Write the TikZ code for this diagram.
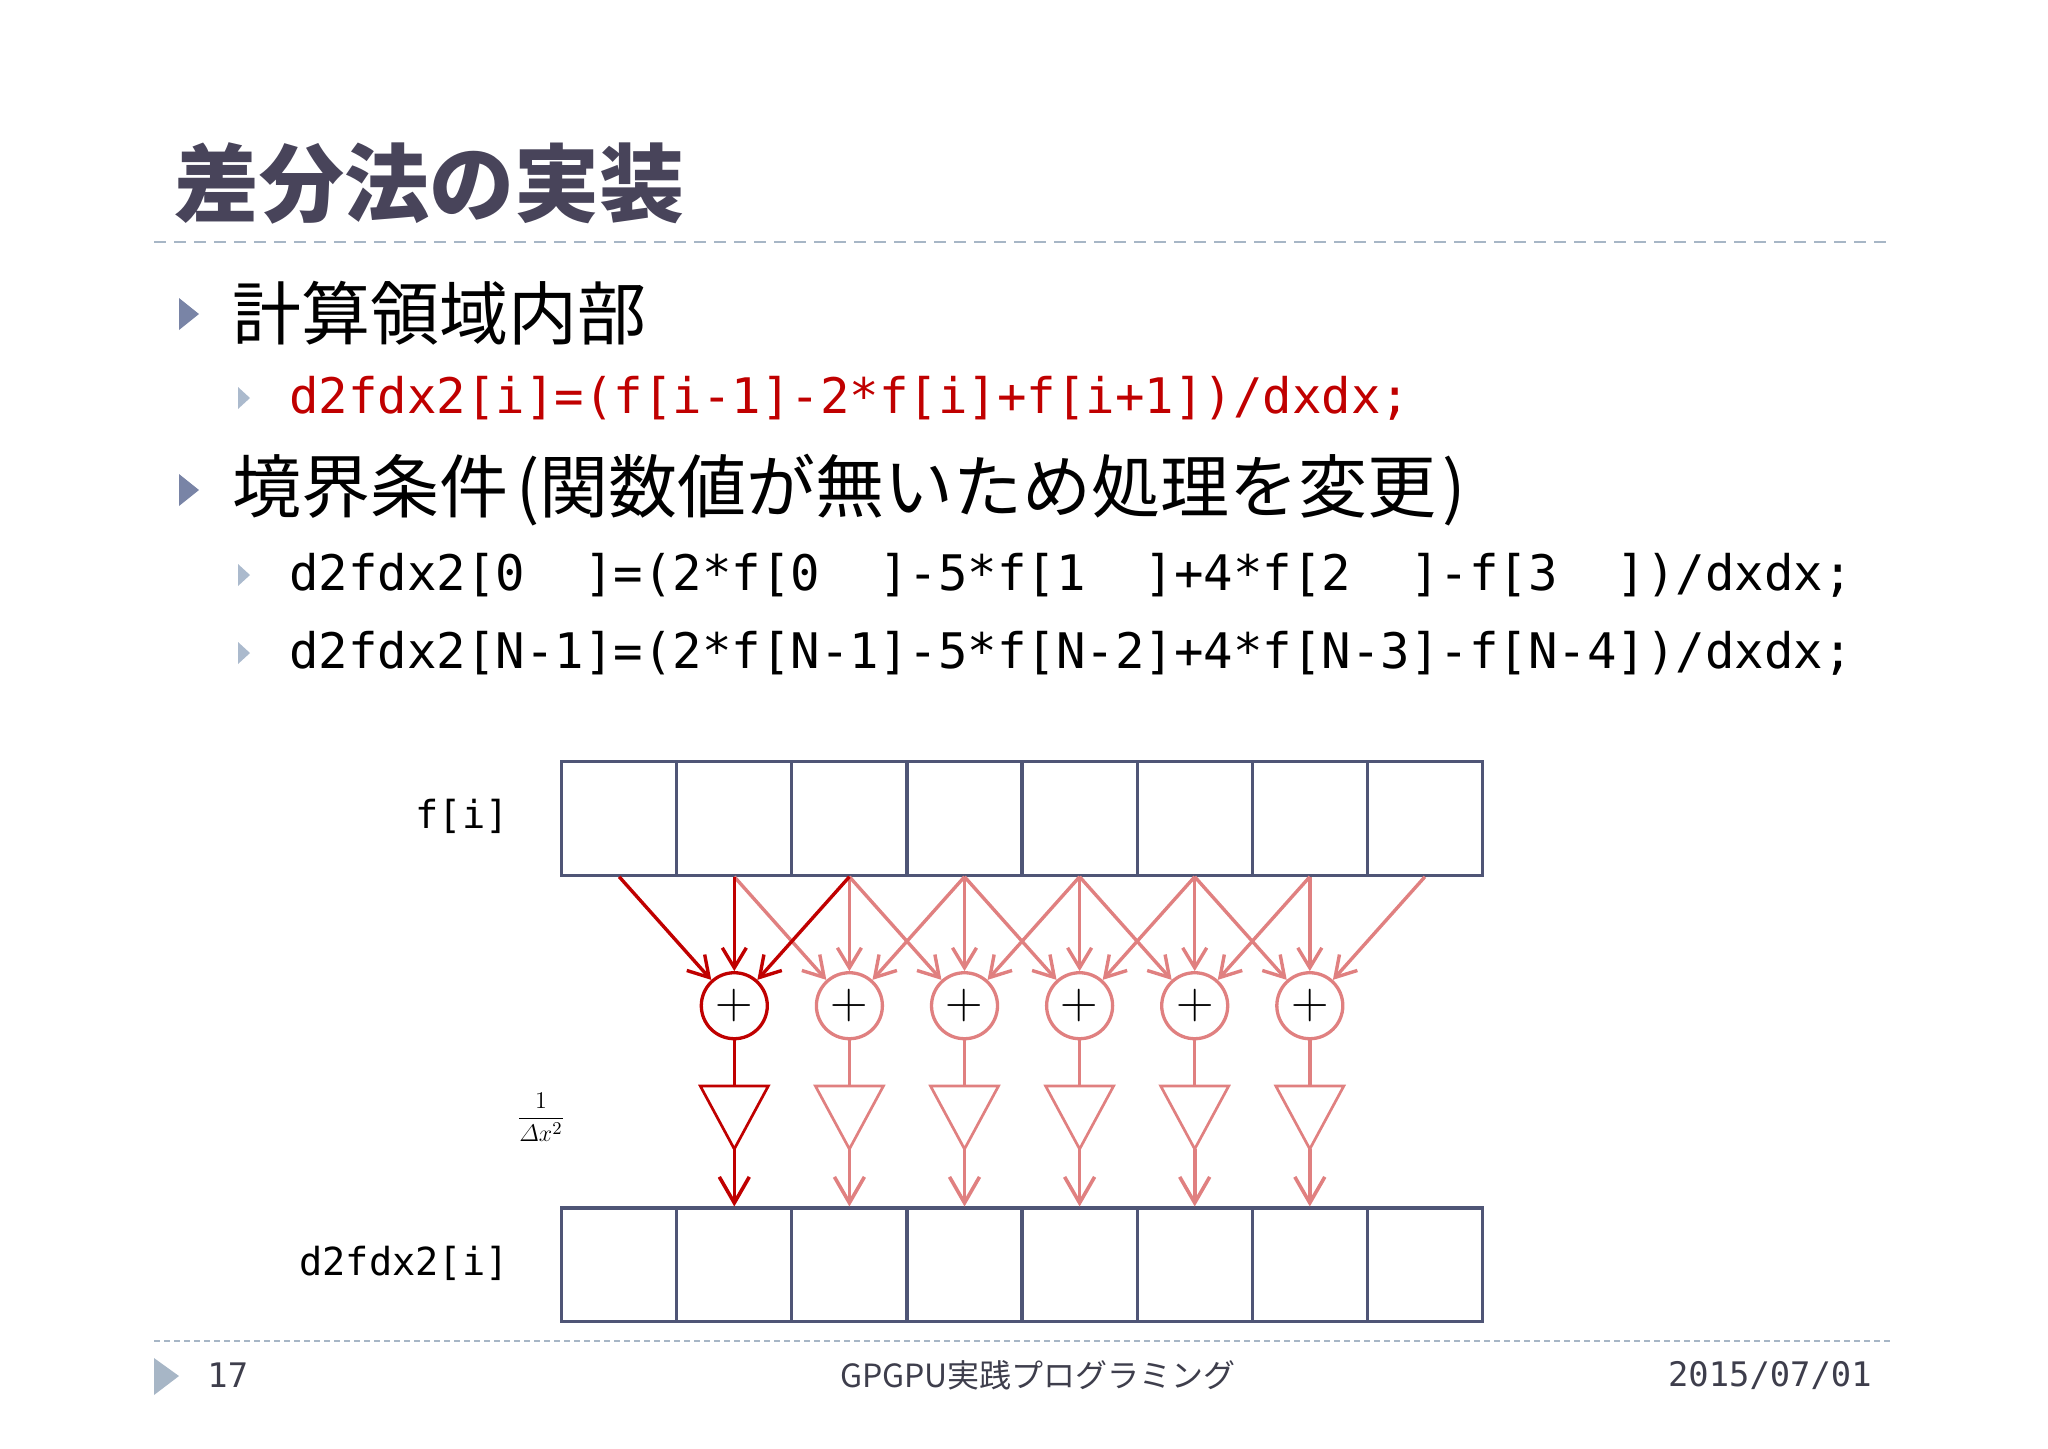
\documentclass[tikz,border=0pt]{standalone}
\usepackage{fontspec}
\newfontfamily\cjk{Noto Sans CJK JP}
\newfontfamily\codefont{DejaVu Sans Mono}
\usetikzlibrary{positioning, arrows.meta}

\definecolor{gridline}{HTML}{4F5576}
\definecolor{darkred}{HTML}{C00000}
\definecolor{lightred}{HTML}{E08080}
\definecolor{titlegray}{HTML}{48445A}
\definecolor{rulegray}{HTML}{A7B6C6}
\definecolor{bulletdark}{HTML}{7984A6}
\definecolor{bulletlight}{HTML}{ABBACD}
\definecolor{footgray}{HTML}{3E3E4C}

\begin{document}
\begin{tikzpicture}[
    x=0.5pt, y=-0.5pt,
    cell/.style={rectangle, draw=gridline, line width=1.6pt, minimum width=57.55pt, minimum height=56.85pt, inner sep=0pt},
    adder/.style={circle, draw=lightred, fill=white, line width=1.65pt, minimum size=33pt, inner sep=0pt, font=\fontsize{26}{26}\selectfont},
    feed/.style={-{Straight Barb[length=10pt, width=12pt]}, line width=1.7pt},
    outfeed/.style={-{Straight Barb[length=13pt, width=15pt]}, line width=1.8pt},
    wire/.style={line width=1.7pt},
    gain/.style={line width=1.35pt, line join=miter},
    rule/.style={rulegray, line width=1pt, dash pattern=on 6pt off 4pt},
    bodytext/.style={anchor=west, inner sep=0pt, font=\cjk\fontsize{34.5}{34.5}\selectfont},
    codetext/.style={anchor=west, inner sep=0pt, font=\codefont\fontsize{24.5}{24.5}\selectfont},
    footnote/.style={inner sep=0pt, text=footgray},
]
\useasboundingbox (0,0) rectangle (2048,1448);

% Title
\node[anchor=west, inner sep=0pt, text=titlegray, font=\cjk\bfseries\fontsize{42.5}{42.5}\selectfont] (title) at (174,183) {差分法の実装};
\draw[rule] (154,242) -- (1891,242);

% ========== BULLETS ==========
\fill[bulletdark] (179,298) -- (199,314) -- (179,330) -- cycle;
\node[bodytext] (inner) at (232,313) {計算領域内部};

\fill[bulletlight] (238,387) -- (250,398) -- (238,409) -- cycle;
\node[codetext, text=darkred] (code_inner) at (289,398) {d2fdx2[i]=(f[i-1]-2*f[i]+f[i+1])/dxdx;};

\fill[bulletdark] (179,474) -- (199,490) -- (179,506) -- cycle;
\node[bodytext] (boundary) at (232,490) {境界条件\hspace{4pt}(関数値が無いため処理を変更\hspace{3pt})};

\fill[bulletlight] (238,564) -- (250,575) -- (238,586) -- cycle;
\node[codetext] (code_left) at (289,575) {d2fdx2[0\phantom{-1}]=(2*f[0\phantom{-1}]-5*f[1\phantom{-1}]+4*f[2\phantom{-1}]-f[3\phantom{-1}])/dxdx;};

\fill[bulletlight] (238,642) -- (250,653) -- (238,664) -- cycle;
\node[codetext] (code_right) at (289,653) {d2fdx2[N-1]=(2*f[N-1]-5*f[N-2]+4*f[N-3]-f[N-4])/dxdx;};

% ========== ARRAYS ==========
\foreach \i in {0,...,7} {
    \node[cell] (f\i) at ({619.2+115.1*\i}, 818.3) {};
    \node[cell] (d\i) at ({619.2+115.1*\i}, 1264.9) {};
}
\node[anchor=east, inner sep=0pt, font=\codefont\fontsize{19.3}{19.3}\selectfont] (f_label) at (509,816) {f[i]};
\node[anchor=east, inner sep=0pt, font=\codefont\fontsize{19.3}{19.3}\selectfont] (d_label) at (509,1263) {d2fdx2[i]};

% Adders and gains
\node[adder, draw=darkred] (s1) at (734.3, 1005.7) {+};
\foreach \i in {2,...,6} {
    \node[adder] (s\i) at ({619.2+115.1*\i}, 1005.7) {+};
}
\foreach \i in {1,...,6} {
    \coordinate (t\i) at ({619.2+115.1*\i}, 1086);
    \coordinate (b\i) at ({619.2+115.1*\i}, 1149);
}
\node[inner sep=0pt] (scale) at (541,1117) {\fontsize{13}{15}\selectfont$\displaystyle\frac{1}{\mathchar"0101 x^{2}}$};

% Neighbour sums
\foreach \i in {2,...,6} {
    \pgfmathtruncatemacro\prev{\i-1}
    \pgfmathtruncatemacro\next{\i+1}
    \draw[feed, lightred] (f\prev.south) -- (s\i);
    \draw[feed, lightred] (f\i.south) -- (s\i);
    \draw[feed, lightred] (f\next.south) -- (s\i);
    \draw[wire, lightred] (s\i) -- (t\i);
    \draw[gain, lightred] (t\i) ++(-34,0) -- ++(68,0) -- (b\i) -- cycle;
    \draw[outfeed, lightred] (b\i) -- (d\i.north);
}
\foreach \j in {0,1,2} {
    \draw[feed, darkred] (f\j.south) -- (s1);
}
\draw[wire, darkred] (s1) -- (t1);
\draw[gain, darkred] (t1) ++(-34,0) -- ++(68,0) -- (b1) -- cycle;
\draw[outfeed, darkred] (b1) -- (d1.north);

% Footer
\draw[rule, dash pattern=on 3pt off 2pt] (154,1341) -- (1891,1341);
\fill[rulegray] (154,1358) -- (179,1376) -- (154,1395) -- cycle;
\node[footnote, anchor=west, font=\codefont\fontsize{16.9}{16.9}\selectfont] (page) at (207,1375) {17};
\node[footnote, font=\cjk\fontsize{16}{16}\selectfont] (course) at (1038,1375) {GPGPU実践プログラミング};
\node[footnote, anchor=east, font=\codefont\fontsize{16.9}{16.9}\selectfont] (date) at (1872,1375) {2015/07/01};

\end{tikzpicture}
\end{document}
